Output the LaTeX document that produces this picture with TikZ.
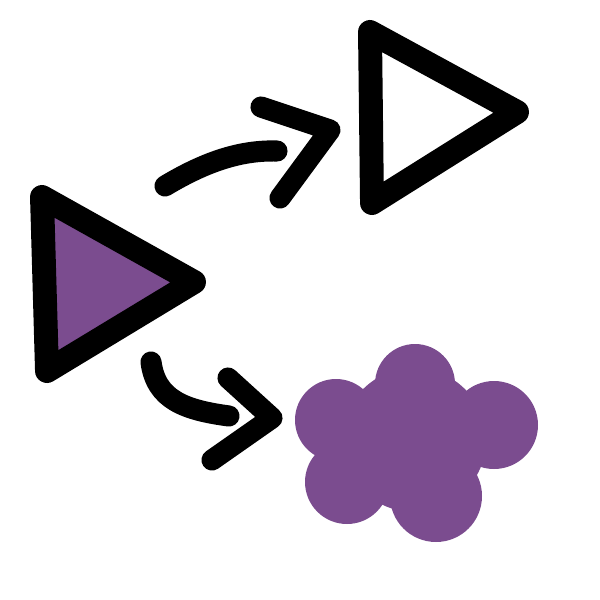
\documentclass[tikz,border=0pt]{standalone}
\usepackage{xcolor}
\usepackage{tikz}
\usetikzlibrary{positioning}

\definecolor{plum}{HTML}{7B4C8F}

\begin{document}
\begin{tikzpicture}[
    x=0.01cm, y=-0.01cm,
    tri/.style={draw=black, line width=6.8pt, line join=round, line cap=round},
    stroke/.style={draw=black, line width=6pt, line cap=round, line join=round},
    blob/.style={fill=plum}
]
    \useasboundingbox (0,0) rectangle (600,600);

    % Triangles
    \coordinate (fa) at (42,197);
    \coordinate (fb) at (194,282);
    \coordinate (fc) at (47,371);
    \filldraw[tri, fill=plum] (fa) -- (fb) -- (fc) -- cycle;

    \coordinate (ea) at (370,32);
    \coordinate (eb) at (517,112);
    \coordinate (ec) at (372,203);
    \draw[tri] (ea) -- (eb) -- (ec) -- cycle;

    % Flower
    \coordinate (core) at (414,440);
    \fill[blob] (core) circle (72);
    \fill[blob] (415,384) circle (40);
    \fill[blob] (336,420) circle (41);
    \fill[blob] (494,425) circle (44);
    \fill[blob] (347,482) circle (42);
    \fill[blob] (436,496) circle (46);

    % Arrows
    \coordinate (s1) at (165,186);
    \coordinate (e1) at (277,151);
    \draw[stroke] (s1) .. controls (205,162) and (240,150) .. (e1);
    \coordinate (h1a) at (261,107);
    \coordinate (h1t) at (330,130);
    \coordinate (h1b) at (280,198);
    \draw[stroke] (h1a) -- (h1t) -- (h1b);

    \coordinate (s2) at (151,362);
    \coordinate (e2) at (229,416);
    \draw[stroke] (s2) .. controls (156,400) and (185,410) .. (e2);
    \coordinate (h2a) at (228,378);
    \coordinate (h2t) at (272,418);
    \coordinate (h2b) at (212,460);
    \draw[stroke] (h2a) -- (h2t) -- (h2b);

\end{tikzpicture}
\end{document}
